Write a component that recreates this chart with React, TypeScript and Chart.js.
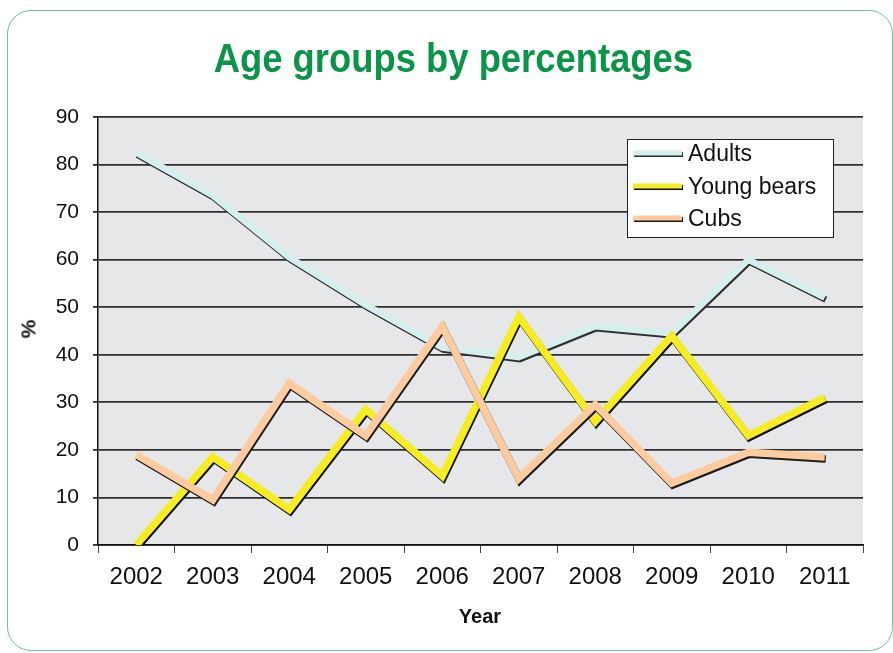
import React, { useEffect, useRef } from "react";
import { Chart, registerables } from "chart.js";

Chart.register(...registerables);

const years = ["2002", "2003", "2004", "2005", "2006", "2007", "2008", "2009", "2010", "2011"];
const adults = [82.5, 73.5, 60.5, 50.5, 41.5, 39.5, 46, 44.5, 60, 52];
const youngBears = [0, 18.5, 7.5, 28.5, 14.5, 48, 26, 44, 23, 31];
const cubs = [19, 9.5, 34, 23, 46, 14, 29.5, 13, 19.5, 18.5];
const yTicks = [0, 10, 20, 30, 40, 50, 60, 70, 80, 90];

const seriesNames = ["Adults", "Young bears", "Cubs"];
const seriesColors = ["#d5eeee", "#f6ec22", "#fccca0"];
const shadowColors = ["#2e2e2e", "#111111", "#1a1a1a"];

const FONT = "'Liberation Sans', Arial, sans-serif";

const bgPlugin = {
  id: "plotBg",
  beforeDraw(chart: any) {
    const { ctx, chartArea } = chart;
    ctx.save();
    ctx.fillStyle = "#e6e7e8";
    ctx.fillRect(chartArea.left, chartArea.top, chartArea.right - chartArea.left, chartArea.bottom - chartArea.top);
    ctx.restore();
  },
};

const shadowPlugin = {
  id: "lineShadow",
  beforeDatasetDraw(chart: any, args: any) {
    const ctx = chart.ctx;
    ctx.save();
    ctx.shadowColor = shadowColors[args.index] || "#111";
    ctx.shadowOffsetX = 1;
    ctx.shadowOffsetY = 2;
    ctx.shadowBlur = 0;
  },
  afterDatasetDraw(chart: any) {
    chart.ctx.restore();
  },
};

const legendPlugin = {
  id: "boxLegend",
  afterDraw(chart: any) {
    const ctx = chart.ctx;
    const x0 = 627, y0 = 139, w = 206, h = 98;
    ctx.save();
    ctx.fillStyle = "#ffffff";
    ctx.fillRect(x0, y0, w, h);
    ctx.strokeStyle = "#222";
    ctx.lineWidth = 1;
    ctx.strokeRect(x0 + 0.5, y0 + 0.5, w, h);
    const rows = [154, 187, 219];
    seriesNames.forEach((name, i) => {
      const y = rows[i];
      ctx.save();
      ctx.shadowColor = shadowColors[i];
      ctx.shadowOffsetX = 1;
      ctx.shadowOffsetY = 1.5;
      ctx.shadowBlur = 0;
      ctx.strokeStyle = seriesColors[i];
      ctx.lineWidth = 5;
      ctx.beginPath();
      ctx.moveTo(633, y - 1);
      ctx.lineTo(682, y - 1);
      ctx.stroke();
      ctx.restore();
      ctx.fillStyle = "#111";
      ctx.font = `23px ${FONT}`;
      ctx.textBaseline = "middle";
      ctx.textAlign = "left";
      ctx.fillText(name, 688, y + 1);
    });
    ctx.restore();
  },
};

export default function App() {
  const canvasRef = useRef<HTMLCanvasElement | null>(null);

  useEffect(() => {
    document.body.style.overflow = "hidden";
    const canvas = canvasRef.current;
    if (!canvas) return;
    const chart = new Chart(canvas, {
      type: "line",
      data: {
        labels: years,
        datasets: [
          {
            label: seriesNames[0],
            data: adults,
            borderColor: seriesColors[0],
            borderWidth: 6.5,
            pointRadius: 0,
            tension: 0,
            order: 3,
          },
          {
            label: seriesNames[1],
            data: youngBears,
            borderColor: seriesColors[1],
            borderWidth: 7.5,
            pointRadius: 0,
            tension: 0,
            order: 2,
          },
          {
            label: seriesNames[2],
            data: cubs,
            borderColor: seriesColors[2],
            borderWidth: 7.5,
            pointRadius: 0,
            tension: 0,
            order: 1,
          },
        ],
      },
      options: {
        responsive: false,
        animation: false,
        devicePixelRatio: 1,
        layout: { padding: { left: 0, top: 117, right: 30, bottom: 38 } },
        plugins: {
          legend: { display: false },
          tooltip: { enabled: false },
          title: { display: false },
        },
        scales: {
          x: {
            type: "category",
            offset: true,
            grid: {
              offset: true,
              drawOnChartArea: false,
              drawTicks: true,
              tickLength: 8,
              color: "#444",
              lineWidth: 1,
            },
            border: { display: true, color: "#111", width: 1.5 },
            ticks: {
              color: "#111",
              font: { family: FONT, size: 24 },
              padding: 10,
              maxRotation: 0,
              autoSkip: false,
            },
            afterFit: (s: any) => {
              s.height = 70;
            },
          },
          y: {
            min: 0,
            max: 90,
            afterBuildTicks: (s: any) => {
              s.ticks = yTicks.map((v) => ({ value: v }));
            },
            grid: {
              color: "#2f2f2f",
              lineWidth: 1.8,
              drawTicks: true,
              tickLength: 5,
            },
            border: { display: true, color: "#111", width: 1.5 },
            ticks: {
              color: "#111",
              font: { family: FONT, size: 21 },
              padding: 14,
            },
            afterFit: (s: any) => {
              s.width = 98;
            },
          },
        },
      },
      plugins: [bgPlugin, shadowPlugin, legendPlugin],
    });
    return () => chart.destroy();
  }, []);

  return (
    <div style={{ position: "fixed", left: 0, top: 0, width: 893, height: 653, overflow: "hidden", background: "#fff" }}>
      <div
        style={{
          position: "absolute",
          left: 7,
          top: 10,
          width: 886,
          height: 641,
          boxSizing: "border-box",
          border: "1.5px solid #6cc49a",
          borderRadius: 24,
        }}
      />
      <canvas ref={canvasRef} width={893} height={653} style={{ position: "absolute", left: 0, top: 0, width: 893, height: 653 }} />
      <div
        style={{
          position: "absolute",
          left: 0,
          top: 38,
          width: 906,
          textAlign: "center",
          fontFamily: FONT,
          fontWeight: "bold",
          fontSize: 40,
          lineHeight: "40px",
          color: "#0a9448",
          whiteSpace: "nowrap",
        }}
      >
        <span style={{ display: "inline-block", transform: "scaleX(0.91)", transformOrigin: "center" }}>
          Age groups by percentages
        </span>
      </div>
      <div
        style={{
          position: "absolute",
          left: 28,
          top: 329,
          transform: "translate(-50%, -50%) rotate(-90deg)",
          fontFamily: FONT,
          fontWeight: "bold",
          fontSize: 21,
          lineHeight: "21px",
          color: "#111",
          whiteSpace: "nowrap",
        }}
      >
        %
      </div>
      <div
        style={{
          position: "absolute",
          left: 480,
          top: 616,
          transform: "translate(-50%, -50%)",
          fontFamily: FONT,
          fontWeight: "bold",
          fontSize: 20,
          lineHeight: "20px",
          color: "#111",
          whiteSpace: "nowrap",
        }}
      >
        Year
      </div>
    </div>
  );
}
